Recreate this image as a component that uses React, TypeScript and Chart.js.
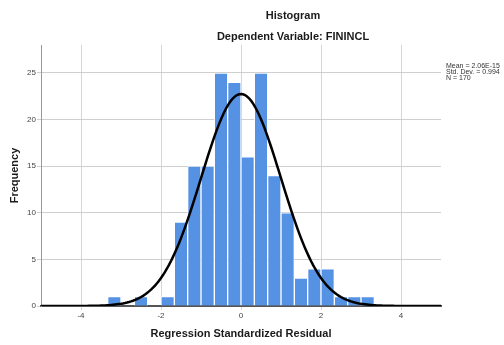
import React, { useEffect, useRef } from "react";
import { Chart, registerables } from "chart.js";

Chart.register(...registerables);

// Histogram bins: lower edges (width 1/3) and frequencies
const binWidth = 1 / 3;
const binLowerEdges = [
  -10 / 3, -9 / 3, -8 / 3, -7 / 3, -6 / 3, -5 / 3, -4 / 3, -3 / 3, -2 / 3, -1 / 3,
  0, 1 / 3, 2 / 3, 3 / 3, 4 / 3, 5 / 3, 6 / 3, 7 / 3, 8 / 3, 9 / 3,
];
const frequencies = [1, 0, 1, 0, 1, 9, 15, 15, 25, 24, 16, 25, 14, 10, 3, 4, 4, 1, 1, 1];

const xTickValues = [-4, -2, 0, 2, 4];
const yTickValues = [0, 5, 10, 15, 20, 25];

const statMean = 2.06e-15;
const statSd = 0.994;
const statN = 170;
const statLines = ["Mean = 2.06E-15", "Std. Dev. = 0.994", "N = 170"];

const titleText = "Histogram";
const subtitleText = "Dependent Variable: FININCL";
const xTitle = "Regression Standardized Residual";
const yTitle = "Frequency";

const FONT = "'Liberation Sans', Arial, sans-serif";

export default function App() {
  const ref = useRef<HTMLCanvasElement | null>(null);

  useEffect(() => {
    if (!ref.current) return;
    const barData = binLowerEdges.map((lo, i) => ({ x: lo + binWidth / 2, y: frequencies[i] }));
    const curve: { x: number; y: number }[] = [];
    for (let k = 0; k <= 200; k++) {
      const x = -5 + k * 0.05;
      const z = (x - statMean) / statSd;
      const y = (statN * binWidth) / (statSd * Math.sqrt(2 * Math.PI)) * Math.exp(-0.5 * z * z);
      curve.push({ x, y });
    }

    const textPlugin = {
      id: "texts",
      afterDraw(chart: any) {
        const ctx = chart.ctx;
        ctx.save();
        ctx.fillStyle = "#1a1a1a";
        ctx.textAlign = "center";
        ctx.textBaseline = "middle";
        ctx.font = `bold 11px ${FONT}`;
        ctx.fillText(titleText, 293, 16);
        ctx.fillText(subtitleText, 293, 37);
        ctx.textAlign = "left";
        ctx.fillStyle = "#333";
        ctx.font = `7px ${FONT}`;
        statLines.forEach((t, i) => ctx.fillText(t, 446, 66 + i * 5.8));
        ctx.restore();
      },
    };

    const chart = new Chart(ref.current, {
      type: "bar",
      data: {
        datasets: [
          {
            type: "line",
            data: curve,
            borderColor: "#000",
            borderWidth: 2.5,
            pointRadius: 0,
            fill: false,
            tension: 0,
            order: 0,
          } as any,
          {
            type: "bar",
            data: barData,
            backgroundColor: "#5592e4",
            borderColor: "rgba(255,255,255,0.7)",
            borderWidth: 1,
            barPercentage: 1,
            categoryPercentage: 1,
            order: 1,
          } as any,
        ],
      },
      options: {
        animation: false,
        responsive: false,
        layout: { padding: { left: 0, right: 63, top: 45, bottom: 0 } },
        plugins: { legend: { display: false }, tooltip: { enabled: false }, title: { display: false } },
        scales: {
          x: {
            type: "linear",
            min: -5,
            max: 5,
            offset: false,
            afterBuildTicks: (s: any) => {
              s.ticks = xTickValues.map((v) => ({ value: v }));
            },
            afterFit: (s: any) => {
              s.height = 39;
            },
            grid: { color: "#d6d6d6", lineWidth: 1, drawTicks: true, tickLength: 4, offset: false },
            border: { color: "#555", width: 2 },
            ticks: { font: { size: 8, family: FONT }, color: "#444", padding: 1 },
            title: {
              display: true,
              text: xTitle,
              font: { size: 11, weight: "bold", family: FONT },
              color: "#1a1a1a",
              padding: { top: 0, bottom: 4 },
            },
          },
          y: {
            type: "linear",
            min: 0,
            max: 28,
            afterBuildTicks: (s: any) => {
              s.ticks = yTickValues.map((v) => ({ value: v }));
            },
            afterFit: (s: any) => {
              s.width = 41;
            },
            grid: { color: "#cfcfcf", lineWidth: 1, drawTicks: true, tickLength: 4 },
            border: { color: "#999", width: 1 },
            ticks: { font: { size: 8, family: FONT }, color: "#444", padding: 1 },
            title: {
              display: true,
              text: yTitle,
              font: { size: 11, weight: "bold", family: FONT },
              color: "#1a1a1a",
              padding: { top: 8, bottom: 0 },
            },
          },
        },
      } as any,
      plugins: [textPlugin],
    });
    return () => chart.destroy();
  }, []);

  return (
    <div style={{ position: "fixed", left: 0, top: 0, width: 504, height: 345, background: "#fff" }}>
      <canvas ref={ref} width={504} height={345} style={{ width: 504, height: 345 }} />
    </div>
  );
}
